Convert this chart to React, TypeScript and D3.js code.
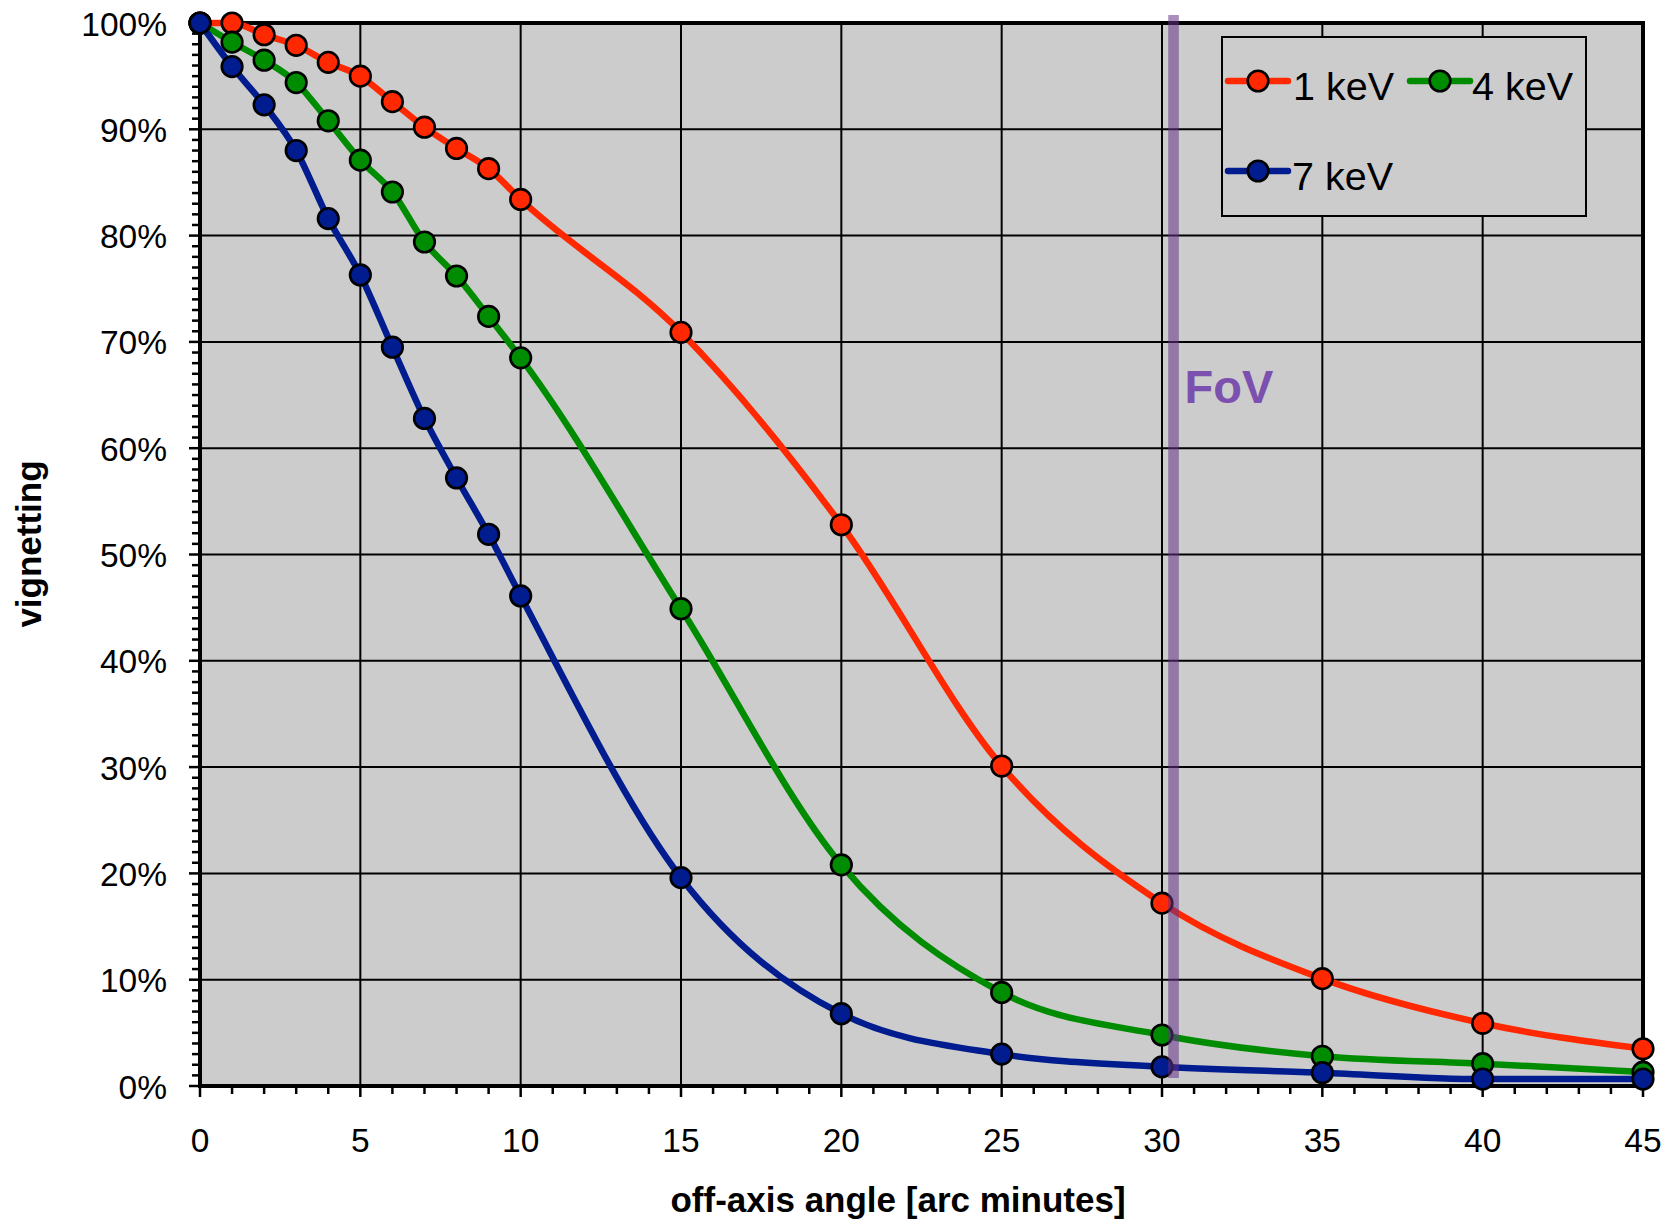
import React from "react";
import * as d3 from "d3";

// Off-axis angle samples [arc minutes]
const angles = [0, 1, 2, 3, 4, 5, 6, 7, 8, 9, 10, 15, 20, 25, 30, 35, 40, 45];

// Vignetting [%] per energy band
const vig1keV = [100, 100, 98.9, 97.9, 96.3, 95.0, 92.6, 90.2, 88.2, 86.3, 83.4, 70.9, 52.8, 30.1, 17.2, 10.1, 5.9, 3.5];
const vig4keV = [100, 98.2, 96.5, 94.4, 90.8, 87.1, 84.1, 79.4, 76.2, 72.4, 68.5, 44.9, 20.8, 8.8, 4.8, 2.8, 2.1, 1.3];
const vig7keV = [100, 95.9, 92.3, 88.0, 81.6, 76.3, 69.5, 62.8, 57.2, 51.9, 46.1, 19.6, 6.8, 3.0, 1.8, 1.25, 0.65, 0.65];

const seriesNames = ["1 keV", "4 keV", "7 keV"];
const seriesColors = ["#ff2800", "#008c00", "#001c8f"];

const xTicks = [0, 5, 10, 15, 20, 25, 30, 35, 40, 45];
const yTicks = [0, 10, 20, 30, 40, 50, 60, 70, 80, 90, 100];

// Field of view marker position [arc minutes]
const fovAngle = 30.36;

const W = 1670;
const H = 1220;
const FONT = "'Liberation Sans', Arial, Helvetica, sans-serif";

export default function App() {
  const left = 200;
  const right = 1643;
  const top = 23;
  const bottom = 1086;

  const x = d3.scaleLinear().domain([0, 45]).range([left, right]);
  const y = d3.scaleLinear().domain([0, 100]).range([bottom, top]);

  const series = [vig1keV, vig4keV, vig7keV].map((vals, i) => ({
    name: seriesNames[i],
    color: seriesColors[i],
    points: angles.map((a, j) => [a, vals[j]] as [number, number]),
  }));

  const line = d3
    .line<[number, number]>()
    .x((d) => x(d[0]))
    .y((d) => y(d[1]))
    .curve(d3.curveMonotoneX);

  const minorX = d3.range(0, 46, 1).filter((v) => v % 5 !== 0);
  const minorY = d3.range(0, 101, 1).filter((v) => v % 10 !== 0);

  const markerR = 10.3;
  const markerStroke = 2.6;
  const lineW = 6.5;

  // legend layout
  const lg = { x: 1222, y: 37, w: 364, h: 179 };
  const legendItems = [
    { cx: 1258, cy: 81, tx: 1293, ty: 100 },
    { cx: 1440, cy: 81, tx: 1472, ty: 100 },
    { cx: 1258, cy: 171, tx: 1292, ty: 190 },
  ];

  return (
    <div style={{ position: "absolute", left: 0, top: 0 }}>
      <svg width={W} height={H} viewBox={`0 0 ${W} ${H}`} style={{ display: "block", background: "#fff" }}>
        {/* plot background */}
        <rect x={left} y={top} width={right - left} height={bottom - top} fill="#cccccc" />

        {/* grid */}
        <g stroke="#000" strokeWidth={2}>
          {xTicks.map((t) => (
            <line key={"gx" + t} x1={x(t)} x2={x(t)} y1={top} y2={bottom} />
          ))}
          {yTicks.map((t) => (
            <line key={"gy" + t} x1={left} x2={right} y1={y(t)} y2={y(t)} />
          ))}
        </g>

        {/* ticks */}
        <g stroke="#000" strokeWidth={2.5}>
          {minorY.map((t) => (
            <line key={"my" + t} x1={left - 8} x2={left} y1={y(t)} y2={y(t)} />
          ))}
          {yTicks.map((t) => (
            <line key={"My" + t} x1={left - 11} x2={left} y1={y(t)} y2={y(t)} />
          ))}
          {minorX.map((t) => (
            <line key={"mx" + t} x1={x(t)} x2={x(t)} y1={bottom} y2={bottom + 8} />
          ))}
          {xTicks.map((t) => (
            <line key={"Mx" + t} x1={x(t)} x2={x(t)} y1={bottom} y2={bottom + 11} />
          ))}
        </g>

        {/* plot frame */}
        <rect x={left} y={top} width={right - left} height={bottom - top} fill="none" stroke="#000" strokeWidth={4} />

        {/* series */}
        {series.map((s) => (
          <g key={s.name}>
            <path d={line(s.points) || ""} fill="none" stroke={s.color} strokeWidth={lineW} strokeLinejoin="round" />
            {s.points.map((p, j) => (
              <circle key={j} cx={x(p[0])} cy={y(p[1])} r={markerR} fill={s.color} stroke="#000" strokeWidth={markerStroke} />
            ))}
          </g>
        ))}

        {/* field of view band */}
        <rect
          x={x(fovAngle) - 5.3}
          y={y(100.75)}
          width={10.6}
          height={y(0.75) - y(100.75)}
          fill="rgb(100,50,135)"
          fillOpacity={0.55}
        />
        <text x={x(fovAngle) + 11} y={403} fontFamily={FONT} fontWeight="bold" fontSize={47} fill="#7b50ae">
          FoV
        </text>

        {/* legend */}
        <rect x={lg.x} y={lg.y} width={lg.w} height={lg.h} fill="#cccccc" stroke="#000" strokeWidth={2} />
        {series.map((s, i) => {
          const it = legendItems[i];
          return (
            <g key={"lg" + s.name}>
              <line x1={it.cx - 30} x2={it.cx + 30} y1={it.cy} y2={it.cy} stroke={s.color} strokeWidth={lineW} strokeLinecap="round" />
              <circle cx={it.cx} cy={it.cy} r={markerR} fill={s.color} stroke="#000" strokeWidth={markerStroke} />
              <text x={it.tx} y={it.ty} fontFamily={FONT} fontSize={39.5} fill="#000">
                {s.name}
              </text>
            </g>
          );
        })}

        {/* tick labels */}
        <g fontFamily={FONT} fontSize={33.5} fill="#000">
          {yTicks.map((t) => (
            <text key={"ly" + t} x={167} y={y(t) + 12.5} textAnchor="end">
              {t + "%"}
            </text>
          ))}
          {xTicks.map((t) => (
            <text key={"lx" + t} x={x(t)} y={1152} textAnchor="middle">
              {t}
            </text>
          ))}
        </g>

        {/* axis titles */}
        <text x={898} y={1212} textAnchor="middle" fontFamily={FONT} fontWeight="bold" fontSize={35} fill="#000">
          off-axis angle [arc minutes]
        </text>
        <text
          transform="translate(41,544) rotate(-90)"
          textAnchor="middle"
          fontFamily={FONT}
          fontWeight="bold"
          fontSize={35}
          fill="#000"
        >
          vignetting
        </text>
      </svg>
    </div>
  );
}
